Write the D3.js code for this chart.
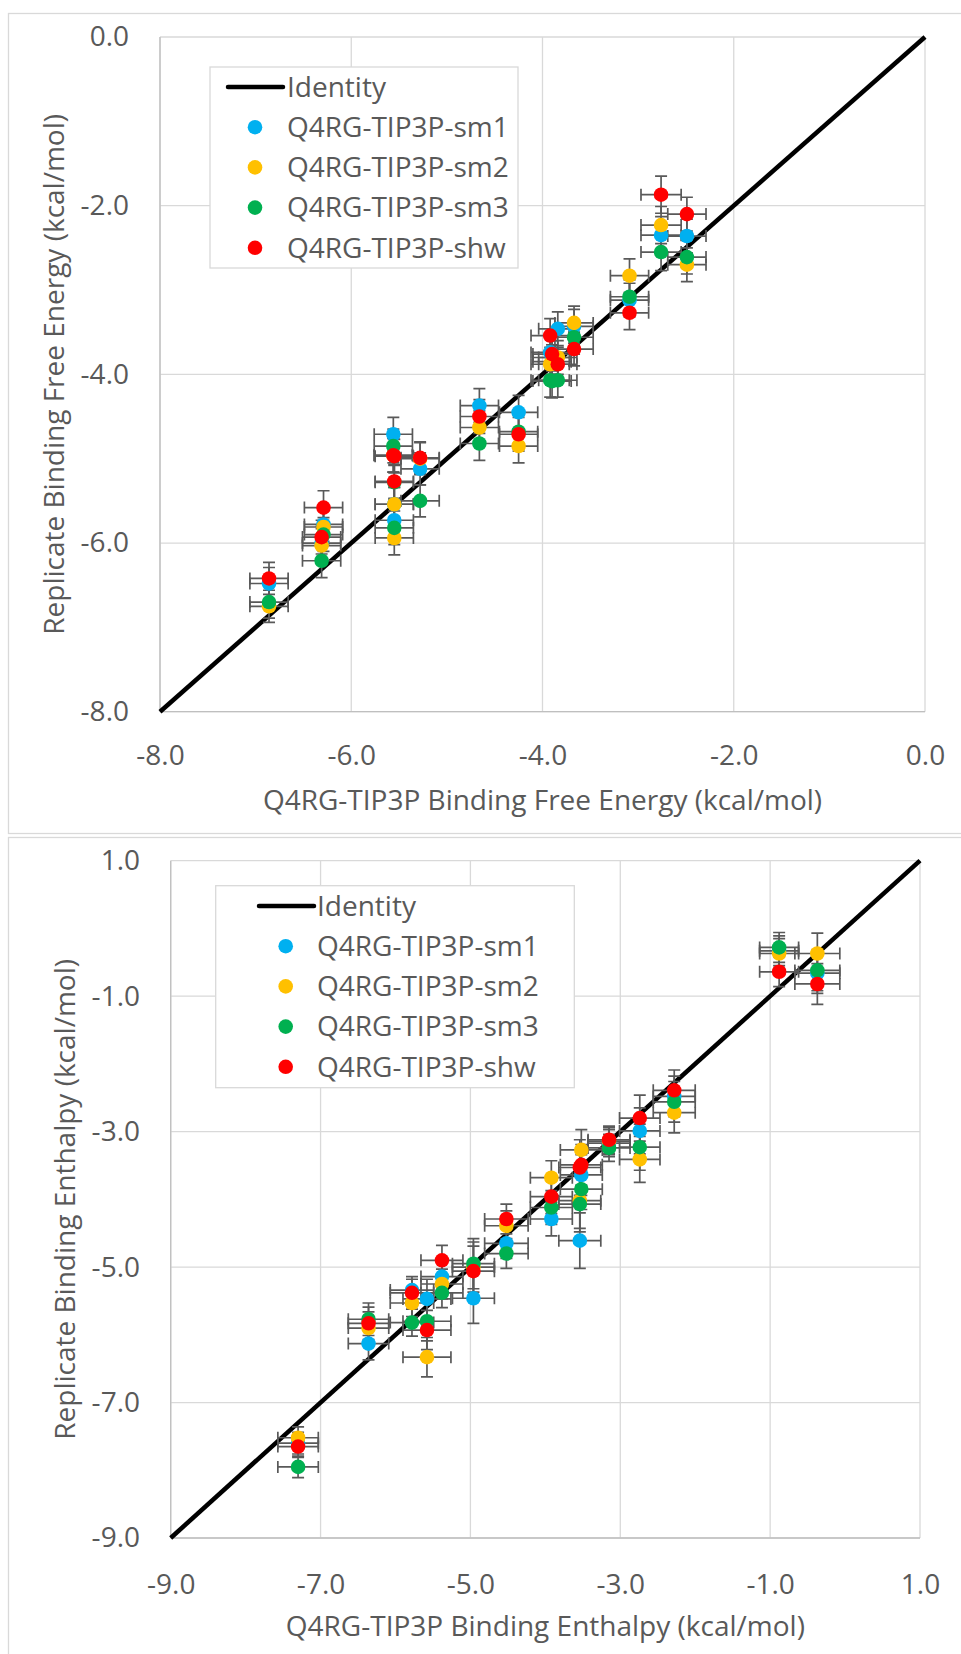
<!DOCTYPE html>
<html>
<head>
<meta charset="utf-8">
<script src="https://cdn.jsdelivr.net/npm/d3@7"></script>
<style>
    body { margin: 0; background: #fff; }
    text { font-family: "Open Sans", sans-serif; fill: #595959; }
</style>
</head>
<body>
<div id="chart"></div>
<script>
var w = 961;
var h = 1654;
var fontSize = 28;

var seriesNames = ["Q4RG-TIP3P-sm1", "Q4RG-TIP3P-sm2", "Q4RG-TIP3P-sm3", "Q4RG-TIP3P-shw"];
var seriesColors = ["#00B0F0", "#FFC000", "#00B050", "#FF0000"];

// ****** binding free energy (top chart) ******
var dgRef = [-6.86, -6.29, -6.31, -5.56, -5.55, -5.55, -5.28, -4.66, -4.25, -3.92, -3.90, -3.84, -3.67, -3.09, -2.76, -2.49];
var dgSm1 = [-6.48, -5.78, -6.00, -4.71, -5.54, -5.73, -5.12, -4.37, -4.45, -3.74, -3.80, -3.46, -3.43, -3.12, -2.35, -2.36];
var dgSm2 = [-6.75, -5.81, -6.03, -4.96, -5.54, -5.94, -5.00, -4.63, -4.85, -3.88, -3.85, -3.80, -3.39, -2.83, -2.23, -2.70];
var dgSm3 = [-6.70, -5.90, -6.21, -4.85, -5.28, -5.82, -5.50, -4.82, -4.68, -4.07, -4.08, -4.07, -3.56, -3.08, -2.55, -2.61];
var dgShw = [-6.42, -5.58, -5.93, -4.96, -5.27, -4.97, -4.99, -4.50, -4.71, -3.54, -3.76, -3.88, -3.70, -3.27, -1.87, -2.10];
var dgXErr = [0.20, 0.20, 0.20, 0.20, 0.20, 0.20, 0.20, 0.20, 0.20, 0.20, 0.20, 0.20, 0.20, 0.20, 0.21, 0.20];
var dgYErr = [0.19, 0.20, 0.20, 0.20, 0.20, 0.20, 0.19, 0.20, 0.20, 0.20, 0.20, 0.20, 0.20, 0.20, 0.22, 0.20];
var dgTicks = [-8, -6, -4, -2, 0];
var dgIdentity = [-8, 0];

// ****** binding enthalpy (bottom chart) ******
var dhRef = [-7.30, -6.36, -5.78, -5.58, -5.38, -4.96, -4.52, -3.92, -3.52, -3.54, -3.15, -2.74, -2.28, -0.88, -0.37];
var dhSm1 = [-7.60, -6.13, -5.34, -5.47, -5.14, -5.46, -4.65, -4.29, -3.64, -4.61, -3.17, -2.99, -2.48, -0.33, -0.66];
var dhSm2 = [-7.52, -5.90, -5.53, -6.33, -5.25, -5.00, -4.39, -3.68, -3.27, -4.02, -3.14, -3.41, -2.72, -0.37, -0.37];
var dhSm3 = [-7.95, -5.77, -5.82, -5.80, -5.38, -4.95, -4.80, -4.12, -3.85, -4.07, -3.24, -3.23, -2.56, -0.28, -0.62];
var dhShw = [-7.65, -5.83, -5.38, -5.93, -4.90, -5.06, -4.29, -3.96, -3.49, -3.53, -3.12, -2.80, -2.39, -0.64, -0.82];
var dhXErr = [0.27, 0.27, 0.29, 0.32, 0.28, 0.28, 0.29, 0.28, 0.28, 0.28, 0.28, 0.27, 0.28, 0.26, 0.30];
var dhYErr = [0.16, 0.24, 0.20, 0.29, 0.22, 0.37, 0.22, 0.25, 0.30, 0.41, 0.20, 0.34, 0.30, 0.22, 0.30];
var dhTicks = [-9, -7, -5, -3, -1, 1];
var dhIdentity = [-9, 1];

var svg = d3.select("#chart").append("svg").attr("width", w).attr("height", h);

var fmt = function (d) { return d.toFixed(1); };

// outer chart frames
svg.append("rect").attr("x", 8.5).attr("y", 13.5).attr("width", 960).attr("height", 820)
    .attr("fill", "none").attr("stroke", "#d9d9d9").attr("stroke-width", 1.3);
svg.append("rect").attr("x", 8.5).attr("y", 837.5).attr("width", 960).attr("height", 830)
    .attr("fill", "none").attr("stroke", "#d9d9d9").attr("stroke-width", 1.3);

drawPanel({
    left: 160, right: 925, top: 37, bottom: 711.7,
    ticks: dgTicks, identity: dgIdentity,
    ref: dgRef, series: [dgSm1, dgSm2, dgSm3, dgShw], xErr: dgXErr, yErr: dgYErr,
    xPad: 33, yPad: 31,
    xTitle: "Q4RG-TIP3P Binding Free Energy (kcal/mol)", xTitleY: 810,
    yTitle: "Replicate Binding Free Energy (kcal/mol)", yTitleX: 64,
    legend: { x: 210, y: 67, w: 308, h: 201, lineX: 228, markX: 255, textX: 287, rowY: 87 }
});

drawPanel({
    left: 170.7, right: 920, top: 860.7, bottom: 1538,
    ticks: dhTicks, identity: dhIdentity,
    ref: dhRef, series: [dhSm1, dhSm2, dhSm3, dhShw], xErr: dhXErr, yErr: dhYErr,
    xPad: 36.5, yPad: 30.7,
    xTitle: "Q4RG-TIP3P Binding Enthalpy (kcal/mol)", xTitleY: 1636,
    yTitle: "Replicate Binding Enthalpy (kcal/mol)", yTitleX: 75,
    legend: { x: 215.7, y: 885.7, w: 358.6, h: 202, lineX: 259, markX: 285.7, textX: 317, rowY: 906 }
});

function drawPanel(p) {
    var dom = d3.extent(p.ticks);

    var xScale = d3.scaleLinear().domain(dom).range([p.left, p.right]);
    var yScale = d3.scaleLinear().domain(dom).range([p.bottom, p.top]);

    var g = svg.append("g");

    // ****** gridlines ******
    g.selectAll(".vgrid").data(p.ticks).enter().append("line")
        .attr("x1", function (d) { return xScale(d); })
        .attr("x2", function (d) { return xScale(d); })
        .attr("y1", p.top).attr("y2", p.bottom)
        .attr("stroke", "#d9d9d9").attr("stroke-width", 1.3);

    g.selectAll(".hgrid").data(p.ticks).enter().append("line")
        .attr("y1", function (d) { return yScale(d); })
        .attr("y2", function (d) { return yScale(d); })
        .attr("x1", p.left).attr("x2", p.right)
        .attr("stroke", "#d9d9d9").attr("stroke-width", 1.3);

    // axis lines (left / bottom)
    g.append("line").attr("x1", p.left).attr("x2", p.left).attr("y1", p.top).attr("y2", p.bottom)
        .attr("stroke", "#bfbfbf").attr("stroke-width", 1.3);
    g.append("line").attr("x1", p.left).attr("x2", p.right).attr("y1", p.bottom).attr("y2", p.bottom)
        .attr("stroke", "#bfbfbf").attr("stroke-width", 1.3);

    // ****** axes (labels only) ******
    var xAxis = d3.axisBottom(xScale).tickValues(p.ticks).tickFormat(fmt).tickSize(0).tickPadding(p.xPad);
    var xg = g.append("g").attr("transform", "translate(0," + p.bottom + ")").call(xAxis);

    var yAxis = d3.axisLeft(yScale).tickValues(p.ticks).tickFormat(fmt).tickSize(0).tickPadding(p.yPad);
    var yg = g.append("g").attr("transform", "translate(" + p.left + ",0)").call(yAxis);

    [xg, yg].forEach(function (a) {
        a.select(".domain").remove();
        a.selectAll("text").attr("font-family", "Open Sans").attr("font-size", fontSize).attr("fill", "#595959");
    });

    // ****** identity line ******
    var line = d3.line()
        .x(function (d) { return xScale(d); })
        .y(function (d) { return yScale(d); });

    g.append("path")
        .datum(p.identity)
        .attr("d", line)
        .attr("fill", "none")
        .attr("stroke", "#000")
        .attr("stroke-width", 4.5);

    // ****** error bars ******
    var cap = 6;
    p.series.forEach(function (vals) {
        var eb = g.append("g").attr("stroke", "#595959").attr("stroke-width", 1.7).attr("fill", "none");
        vals.forEach(function (v, i) {
            var cx = xScale(p.ref[i]), cy = yScale(v);
            var x0 = xScale(p.ref[i] - p.xErr[i]), x1 = xScale(p.ref[i] + p.xErr[i]);
            var y0 = yScale(v - p.yErr[i]), y1 = yScale(v + p.yErr[i]);
            eb.append("path").attr("d",
                "M" + x0 + "," + cy + "H" + x1 +
                "M" + x0 + "," + (cy - cap) + "V" + (cy + cap) +
                "M" + x1 + "," + (cy - cap) + "V" + (cy + cap) +
                "M" + cx + "," + y0 + "V" + y1 +
                "M" + (cx - cap) + "," + y0 + "H" + (cx + cap) +
                "M" + (cx - cap) + "," + y1 + "H" + (cx + cap));
        });
    });

    // ****** markers ******
    p.series.forEach(function (vals, s) {
        g.append("g").selectAll("circle").data(vals).enter().append("circle")
            .attr("cx", function (d, i) { return xScale(p.ref[i]); })
            .attr("cy", function (d) { return yScale(d); })
            .attr("r", 7.3)
            .attr("fill", seriesColors[s]);
    });

    // ****** axis titles ******
    g.append("text")
        .attr("x", (p.left + p.right) / 2).attr("y", p.xTitleY)
        .attr("text-anchor", "middle").attr("font-size", fontSize)
        .text(p.xTitle);

    g.append("text")
        .attr("transform", "translate(" + p.yTitleX + "," + (p.top + p.bottom) / 2 + ") rotate(-90)")
        .attr("text-anchor", "middle").attr("font-size", fontSize)
        .text(p.yTitle);

    // ****** legend ******
    var L = p.legend;
    var lg = g.append("g");
    lg.append("rect").attr("x", L.x).attr("y", L.y).attr("width", L.w).attr("height", L.h)
        .attr("fill", "#fff").attr("stroke", "#d9d9d9").attr("stroke-width", 1.3);

    lg.append("line").attr("x1", L.lineX).attr("x2", L.lineX + 55)
        .attr("y1", L.rowY).attr("y2", L.rowY)
        .attr("stroke", "#000").attr("stroke-width", 4.5).attr("stroke-linecap", "round");
    lg.append("text").attr("x", L.textX).attr("y", L.rowY).attr("dy", "0.35em")
        .attr("font-size", fontSize).text("Identity");

    seriesNames.forEach(function (name, s) {
        var yy = L.rowY + 40.2 * (s + 1);
        lg.append("circle").attr("cx", L.markX).attr("cy", yy).attr("r", 7.3).attr("fill", seriesColors[s]);
        lg.append("text").attr("x", L.textX).attr("y", yy).attr("dy", "0.35em")
            .attr("font-size", fontSize).text(name);
    });
}
</script>
</body>
</html>
